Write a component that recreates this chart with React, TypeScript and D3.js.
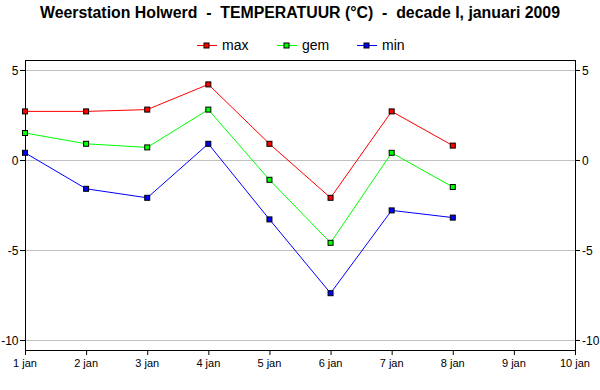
import React from "react";
import * as d3 from "d3";

const days = [1, 2, 3, 4, 5, 6, 7, 8, 9, 10];
const dayLabels = ["1 jan", "2 jan", "3 jan", "4 jan", "5 jan", "6 jan", "7 jan", "8 jan", "9 jan", "10 jan"];
const maxVals = [2.7, 2.7, 2.8, 4.2, 0.9, -2.1, 2.7, 0.8];
const gemVals = [1.5, 0.9, 0.7, 2.8, -1.1, -4.6, 0.4, -1.5];
const minVals = [0.4, -1.6, -2.1, 0.9, -3.3, -7.4, -2.8, -3.2];
const yTicks = [5, 0, -5, -10];

const series = [
  { name: "max", color: "#ff0000", values: maxVals },
  { name: "gem", color: "#00ff00", values: gemVals },
  { name: "min", color: "#0000ff", values: minVals },
];

const font = "'Liberation Sans', Arial, sans-serif";

export default function App() {
  const left = 25, right = 575, top = 60, bottom = 350;
  const x = d3.scaleLinear().domain([1, 10]).range([left, right]);
  const y = d3.scaleLinear().domain([-10, 5]).range([340, 70]);
  const line = d3.line<number>().x((_, i) => x(days[i])).y((d) => y(d));
  const legendX = [197, 277, 357];

  return (
    <svg width={600} height={390} style={{ position: "absolute", left: 0, top: 0 }} fontFamily={font}>
      <rect width={600} height={390} fill="#fff" />
      <text x={40} y={17.5} fontSize={16} fontWeight="bold" fill="#000" textLength={520} lengthAdjust="spacingAndGlyphs" style={{ whiteSpace: "pre" }}>
        {"Weerstation Holwerd  -  TEMPERATUUR (°C)  -  decade I, januari 2009"}
      </text>
      {series.map((s, i) => (
        <g key={s.name}>
          <line x1={legendX[i]} x2={legendX[i] + 20} y1={45.5} y2={45.5} stroke={s.color} />
          <rect x={legendX[i] + 7} y={43} width={5} height={5} fill={s.color} stroke="#000" strokeWidth={1} />
          <text x={legendX[i] + 25} y={50} fontSize={14} fill="#000">{s.name}</text>
        </g>
      ))}
      {yTicks.map((t) => (
        <g key={t}>
          <line x1={left} x2={right} y1={y(t) + 0.5} y2={y(t) + 0.5} stroke="#c0c0c0" />
          <line x1={left - 5} x2={left} y1={y(t) + 0.5} y2={y(t) + 0.5} stroke="#000" />
          <line x1={right} x2={right + 5} y1={y(t) + 0.5} y2={y(t) + 0.5} stroke="#000" />
          <text x={left - 6.5} y={y(t) + 4.5} textAnchor="end" fontSize={12} fill="#000">{t}</text>
          <text x={right + 7} y={y(t) + 4.5} fontSize={12} fill="#000">{t}</text>
        </g>
      ))}
      <rect x={left + 0.5} y={top + 0.5} width={right - left} height={bottom - top} fill="none" stroke="#000" />
      {days.map((d, i) => (
        <g key={d}>
          <line x1={x(d) + 0.5} x2={x(d) + 0.5} y1={bottom} y2={bottom + 5} stroke="#000" />
          <text x={x(d)} y={367} textAnchor="middle" fontSize={11} fill="#000">{dayLabels[i]}</text>
        </g>
      ))}
      {series.map((s) => (
        <g key={s.name}>
          <path d={line(s.values) || ""} fill="none" stroke={s.color} strokeWidth={1} />
          {s.values.map((v, i) => (
            <rect key={i} x={x(days[i]) - 2.5} y={y(v) - 2.5} width={5} height={5} fill={s.color} stroke="#000" strokeWidth={1} />
          ))}
        </g>
      ))}
    </svg>
  );
}
